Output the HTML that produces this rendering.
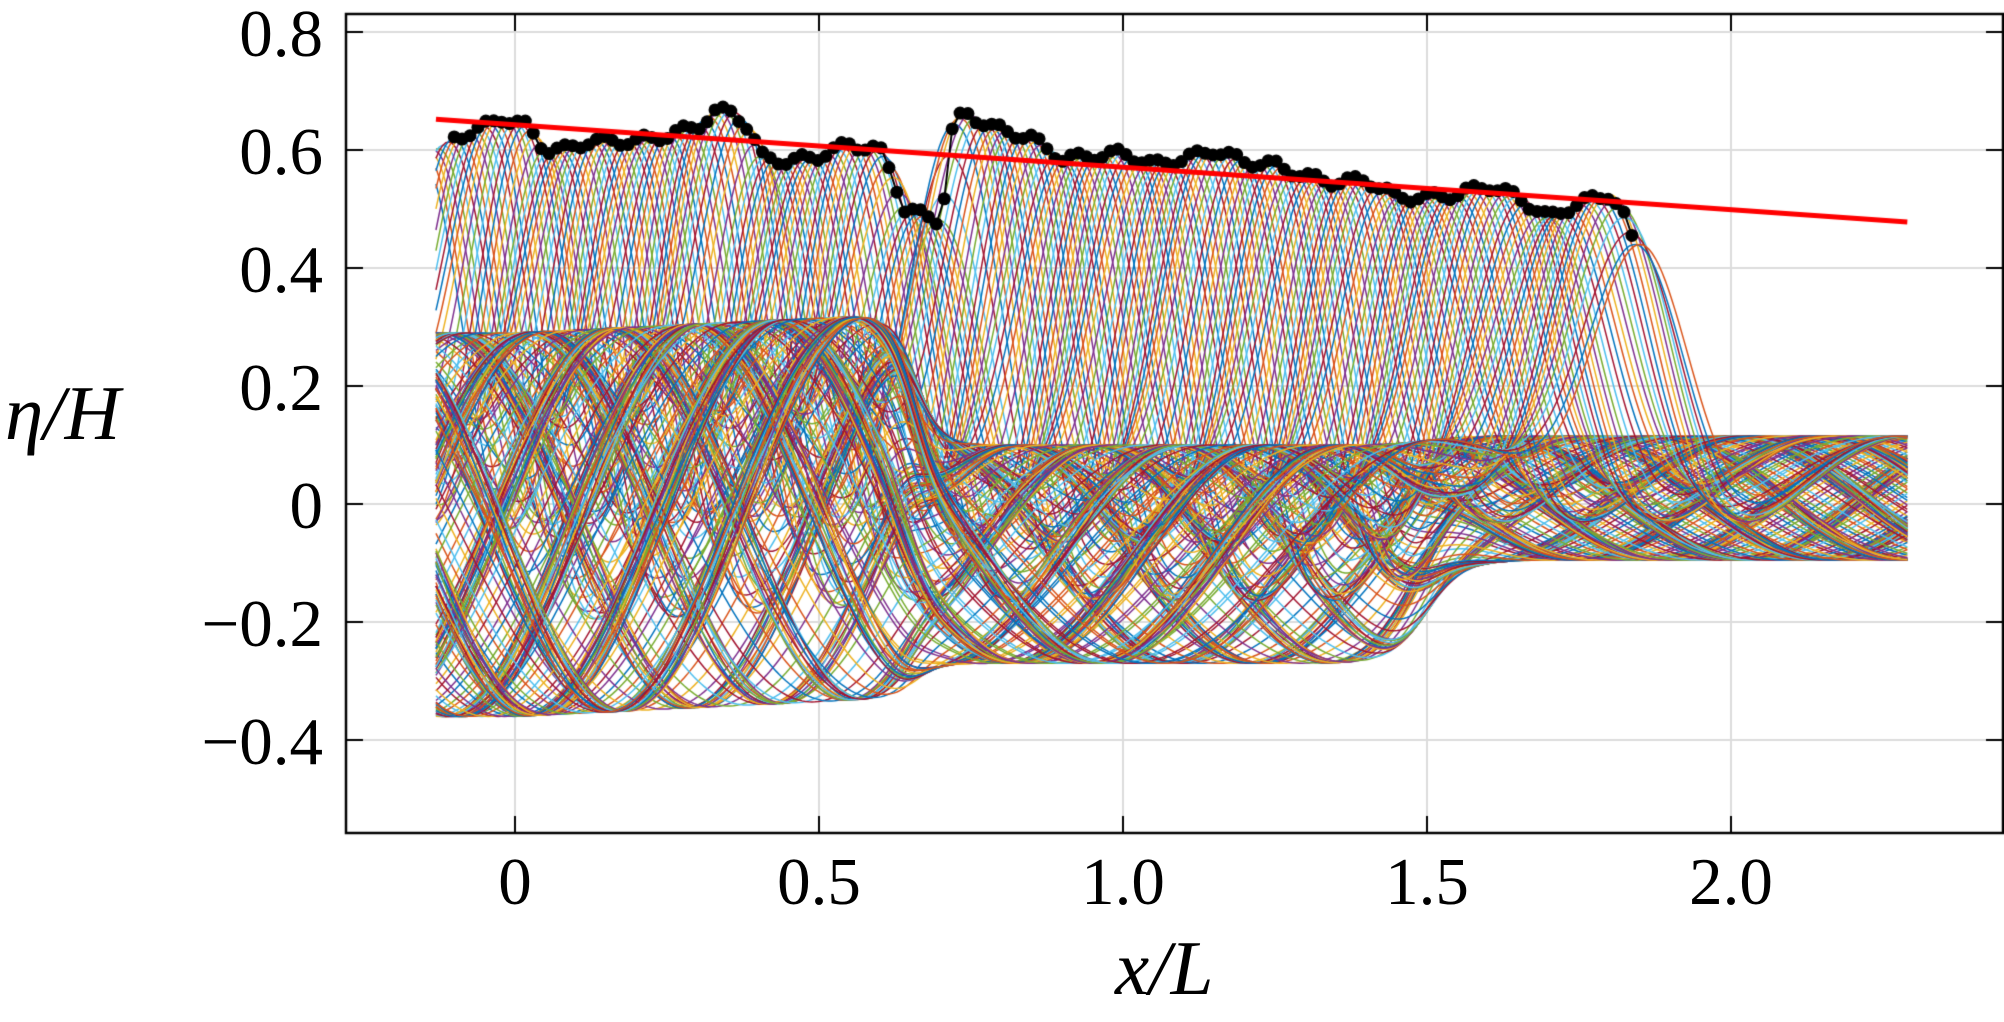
<!DOCTYPE html>
<html><head><meta charset="utf-8">
<style>
html,body{margin:0;padding:0;background:#fff;}
#w{position:relative;width:2004px;height:1022px;overflow:hidden;background:#fff;}
canvas{position:absolute;left:0;top:0;}
.t{position:absolute;font-family:"Liberation Serif",serif;font-size:67px;color:#000;line-height:1;white-space:nowrap;}
.yl{text-align:right;width:200px;}
.xl{text-align:center;width:200px;}
.lab{position:absolute;font-family:"Liberation Serif",serif;font-style:italic;font-size:77px;color:#000;line-height:1;white-space:nowrap;}
</style></head><body>
<div id="w">
<canvas id="c" width="2004" height="1022"></canvas>
<div class="t yl" style="left:123px;top:1px">0.8</div>
<div class="t yl" style="left:123px;top:119px">0.6</div>
<div class="t yl" style="left:123px;top:237px">0.4</div>
<div class="t yl" style="left:123px;top:355px">0.2</div>
<div class="t yl" style="left:123px;top:473px">0</div>
<div class="t yl" style="left:123px;top:591px">−0.2</div>
<div class="t yl" style="left:123px;top:709px">−0.4</div>
<div class="t xl" style="left:415px;top:849px">0</div>
<div class="t xl" style="left:719px;top:849px">0.5</div>
<div class="t xl" style="left:1023px;top:849px">1.0</div>
<div class="t xl" style="left:1327px;top:849px">1.5</div>
<div class="t xl" style="left:1631px;top:849px">2.0</div>
<div class="lab" style="left:5px;top:375px">η/H</div>
<div class="lab" style="left:1115px;top:930px">x/L</div>
</div>
<script>
const cv=document.getElementById('c'),g=cv.getContext('2d');
const L=346,R=2003,T=14,B=833;
const X=v=>515+608*v, Y=v=>504-590*v;
g.strokeStyle='#dcdcdc';g.lineWidth=2;
[0,0.5,1,1.5,2].forEach(v=>{g.beginPath();g.moveTo(X(v),T);g.lineTo(X(v),B);g.stroke();});
[0.8,0.6,0.4,0.2,0,-0.2,-0.4].forEach(v=>{g.beginPath();g.moveTo(L,Y(v));g.lineTo(R,Y(v));g.stroke();});
const D=[[-0.13,0.6],[-0.1,0.62],[-0.05,0.64],[-0.02,0.655],[0.02,0.64],[0.05,0.6],[0.08,0.6],[0.12,0.615],[0.2,0.615],[0.25,0.625],[0.3,0.64],[0.33,0.665],[0.36,0.665],[0.39,0.63],[0.4,0.59],[0.45,0.58],[0.5,0.59],[0.55,0.61],[0.6,0.6],[0.62,0.56],[0.64,0.5],[0.7,0.48],[0.71,0.55],[0.72,0.64],[0.74,0.665],[0.78,0.64],[0.85,0.62],[0.9,0.585],[1.0,0.595],[1.05,0.575],[1.1,0.585],[1.15,0.6],[1.2,0.58],[1.25,0.575],[1.3,0.555],[1.35,0.545],[1.4,0.55],[1.45,0.52],[1.5,0.52],[1.55,0.525],[1.6,0.54],[1.65,0.52],[1.7,0.485],[1.75,0.51],[1.8,0.525],[1.82,0.5],[1.84,0.44]];
function A(x){if(x<=D[0][0])return D[0][1];for(let i=1;i<D.length;i++){if(x<=D[i][0]){const a=D[i-1],b=D[i];return a[1]+(b[1]-a[1])*(x-a[0])/(b[0]-a[0]);}}return D[D.length-1][1];}
const sg=(x,c,w)=>1/(1+Math.exp(-(x-c)/w));
function mean(x){const s1=sg(x,0.66,0.02),s2=sg(x,1.5,0.03);return (-0.035+0.03*Math.max(0,x)/0.6)*(1-s1)+(-0.085)*s1*(1-s2)+0.01*s2;}
function amp(x){const s1=sg(x,0.66,0.02),s2=sg(x,1.5,0.03);return 0.325*(1-s1)+0.185*s1*(1-s2)+0.105*s2;}
const cols=['#0072BD','#D95319','#EDB120','#7E2F8E','#77AC30','#4DBEEE','#A2142F'];
g.save();g.beginPath();g.rect(L,T,R-L,B-T);g.clip();
const N=240,x0=-0.13,x1=2.29,lam=0.85;
g.lineWidth=1.5;
for(let i=0;i<N;i++){
  const t=i/(N-1);const c=-0.16+2.01*t;const Ac=A(c);
  g.strokeStyle=cols[i%7];g.beginPath();
  for(let k=0;k<=450;k++){
    const x=x0+(x1-x0)*k/450;
    const ph=2*Math.PI*(x-c)/lam+0.35*Math.sin(3.1*x+i*0.37);
    let bg=mean(x)+amp(x)*Math.cos(ph+Math.PI*0.9);
    const d=(x-c)/0.12;const gg=Math.exp(-d*d);
    const y=bg*(1-gg)+Ac*gg;
    if(k==0)g.moveTo(X(x),Y(y));else g.lineTo(X(x),Y(y));
  }
  g.stroke();
}
g.restore();
const pts=[];for(let x=-0.1;x<=1.84;x+=0.013){pts.push([x,A(x)+0.008*Math.sin(x*97)]);}
g.strokeStyle='#000';g.lineWidth=2;g.beginPath();pts.forEach((p,k)=>{k?g.lineTo(X(p[0]),Y(p[1])):g.moveTo(X(p[0]),Y(p[1]));});g.stroke();
g.fillStyle='#000';pts.forEach(p=>{g.beginPath();g.arc(X(p[0]),Y(p[1]),6.5,0,7);g.fill();});
g.strokeStyle='#ff0000';g.lineWidth=5;g.beginPath();g.moveTo(X(-0.13),Y(0.652));g.lineTo(X(2.29),Y(0.478));g.stroke();
g.strokeStyle='#000';g.lineWidth=2.5;g.strokeRect(L,T,R-L,B-T);
g.lineWidth=2;
[0,0.5,1,1.5,2].forEach(v=>{g.beginPath();g.moveTo(X(v),B);g.lineTo(X(v),B-17);g.moveTo(X(v),T);g.lineTo(X(v),T+17);g.stroke();});
[0.8,0.6,0.4,0.2,0,-0.2,-0.4].forEach(v=>{g.beginPath();g.moveTo(L,Y(v));g.lineTo(L+17,Y(v));g.moveTo(R,Y(v));g.lineTo(R-17,Y(v));g.stroke();});
</script>
</body></html>
